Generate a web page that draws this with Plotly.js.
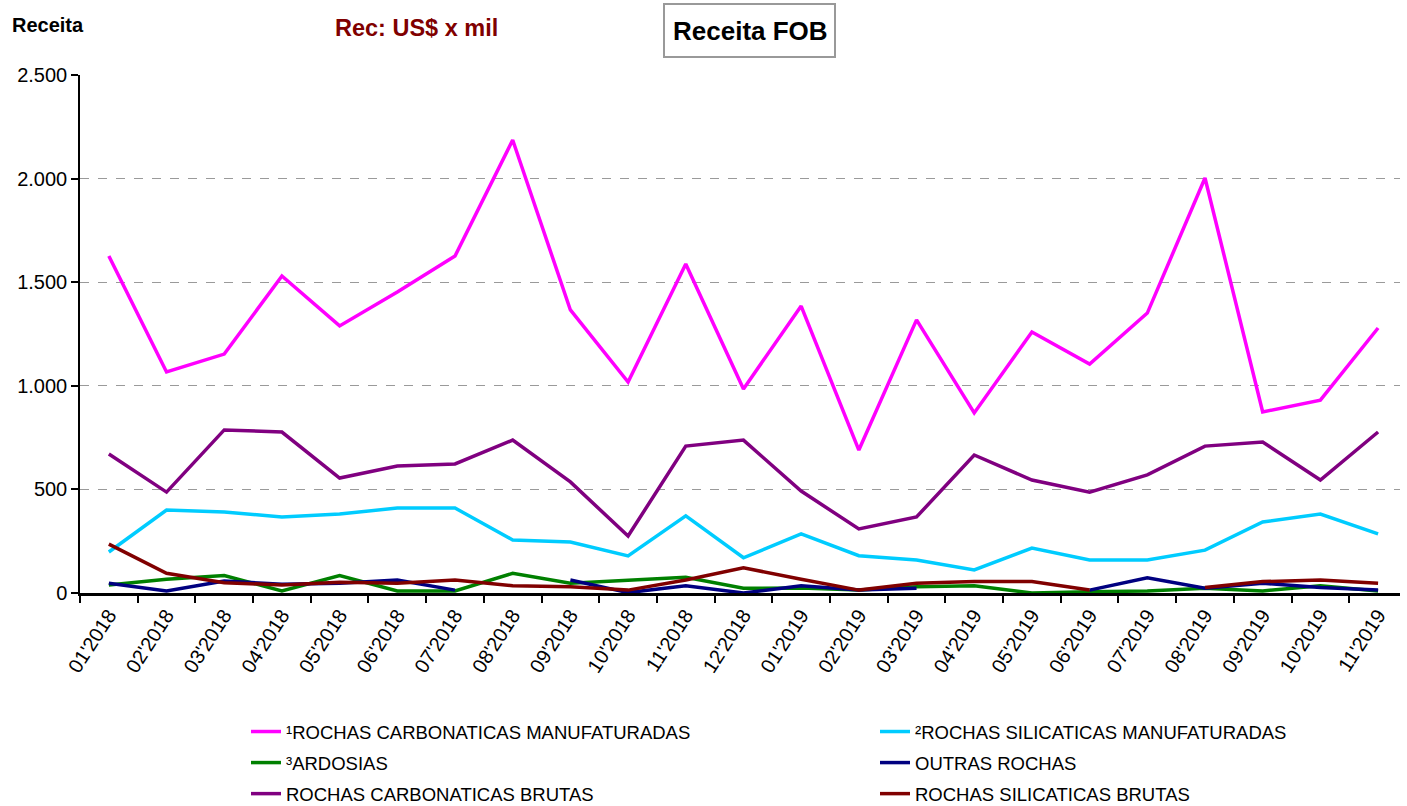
<!DOCTYPE html>
<html><head><meta charset="utf-8">
<script src="https://cdn.plot.ly/plotly-3.0.1.min.js"></script>
<style>body{margin:0;background:#fff}#chart{width:1407px;height:806px}</style>
</head><body><div id="chart"></div>
<script>
const months = ["01'2018","02'2018","03'2018","04'2018","05'2018","06'2018","07'2018","08'2018","09'2018","10'2018","11'2018","12'2018",
"01'2019","02'2019","03'2019","04'2019","05'2019","06'2019","07'2019","08'2019","09'2019","10'2019","11'2019"];
const carbManuf = [1626,1067,1153,1530,1289,1453,1626,2186,1366,1018,1588,985,1385,690,1318,869,1260,1105,1351,2003,874,931,1279];
const silicManuf = [198,400,391,367,381,410,410,256,246,179,372,170,285,180,159,111,217,159,159,207,343,381,285];
const ardosias = [39,66,84,10,84,10,10,95,47,63,76,23,24,15,30,35,0,6,10,23,10,35,10];
const outras = [47,10,58,42,47,63,14,null,63,2,35,0,35,14,23,null,null,14,74,23,47,26,14];
const carbBrutas = [671,487,787,777,555,613,623,738,536,275,709,738,492,309,367,666,545,487,570,709,729,545,777];
const silicBrutas = [236,95,50,39,52,47,63,35,30,14,63,122,66,14,47,55,55,14,null,26,55,63,47];

const names = ["¹ROCHAS CARBONATICAS MANUFATURADAS","²ROCHAS SILICATICAS MANUFATURADAS","³ARDOSIAS","OUTRAS ROCHAS","ROCHAS CARBONATICAS BRUTAS","ROCHAS SILICATICAS BRUTAS"];
const series = [carbManuf, silicManuf, ardosias, outras, carbBrutas, silicBrutas];
const colors = ["#FF00FF","#00CCFF","#008000","#000080","#800080","#800000"];
const legendOf = ["legend","legend2","legend","legend2","legend","legend2"];

const traces = series.map((s,i)=>({
  x: months, y: s, name: names[i], type:'scatter', mode:'lines',
  line:{color:colors[i], width:3.5}, connectgaps:false,
  legend: legendOf[i], legendgroup: 'g'+i
}));

const font = "Liberation Sans, Arial, sans-serif";
const legendFont = {family:font, size:18.5, color:'#000'};
const L = 80, W = 1320, T = 75, H = 518;
const px = v => (v - L) / W;
const py = v => (T + H - v) / H;
const legCommon = {orientation:'v', xanchor:'left', yref:'container', y:1-713/806, yanchor:'top',
  font:legendFont, tracegroupgap:4, bgcolor:'rgba(0,0,0,0)', traceorder:'grouped'};
const layout = {
  width:1407, height:806,
  margin:{l:L, r:7, t:T, b:213},
  separators: ',.',
  paper_bgcolor:'#fff', plot_bgcolor:'#fff',
  font:{family:font, size:18, color:'#000'},
  showlegend:true,
  legend: Object.assign({x:px(246)}, legCommon),
  legend2: Object.assign({x:px(875)}, legCommon),
  xaxis:{type:'category', range:[-0.5,22.38], tickson:'boundaries', ticks:'outside', ticklen:7,
    tickcolor:'#000', tickwidth:1.5, tickangle:-57, showgrid:false, showline:true, linecolor:'#000', linewidth:2.5,
    tickfont:{family:font, size:20, color:'#000'}, zeroline:false, automargin:false},
  yaxis:{range:[0,2500], dtick:500, tick0:0, ticks:'outside', ticklen:7, tickcolor:'#000', tickwidth:1.5,
    showline:true, linecolor:'#000', linewidth:1.5, showgrid:true, gridcolor:'#9a9a9a', griddash:'dash', gridwidth:1,
    tickformat:',d', tickfont:{family:font, size:20, color:'#000'}, zeroline:false, automargin:false},
  shapes:[
    {type:'rect', xref:'paper', yref:'paper', x0:px(664), x1:px(835), y0:py(57), y1:py(4),
      line:{color:'#999', width:2}, fillcolor:'#fff', layer:'above'}
  ],
  annotations:[
    {text:'<b>Receita</b>', xref:'paper', yref:'paper', x:px(10), y:py(25), xanchor:'left', yanchor:'middle',
      showarrow:false, font:{family:font, size:20, color:'#000'}},
    {text:'<b>Rec: US$ x mil</b>', xref:'paper', yref:'paper', x:px(333), y:py(28), xanchor:'left', yanchor:'middle',
      showarrow:false, font:{family:font, size:23.5, color:'#800000'}},
    {text:'<b>Receita FOB</b>', xref:'paper', yref:'paper', x:px(750), y:py(30.5), xanchor:'center', yanchor:'middle',
      showarrow:false, font:{family:font, size:26, color:'#000'}}
  ]
};
Plotly.newPlot('chart', traces, layout, {displayModeBar:false});
</script></body></html>
